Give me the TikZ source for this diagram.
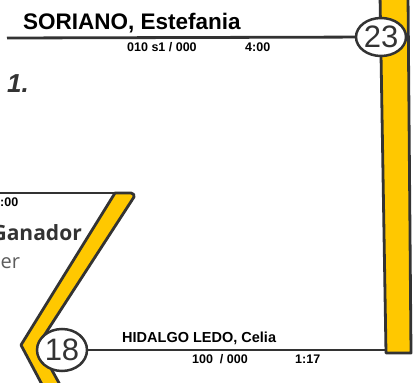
\documentclass[tikz,border=0pt]{standalone}
\usepackage{fontspec}
\setmainfont{Liberation Sans}
\newfontfamily\osans{Open Sans}
\usetikzlibrary{shapes.geometric}
\definecolor{bandyellow}{HTML}{FFC800}
\definecolor{ink}{HTML}{333333}
\begin{document}
\begin{tikzpicture}[x=1pt,y=-1pt,
  band/.style={fill=bandyellow,draw=ink,line width=2.8pt,line join=round},
  bline/.style={draw=ink,line width=2.8pt},
  seed/.style={ellipse,draw=ink,line width=2.5pt,fill=white,minimum width=50pt,inner sep=0pt,font=\fontsize{31}{31}\selectfont,text=ink},
  pname/.style={anchor=base west,inner sep=0pt,text=black},
  small/.style={anchor=base west,font=\bfseries\fontsize{12.5}{12.5}\selectfont,inner sep=0pt,text=black},
]
\useasboundingbox (0,0) rectangle (414,382);
\clip (0,0) rectangle (414,382);
% winner bands
\draw[band] (380,-5) -- (408,-5) -- (411,353) -- (386,353) -- cycle;
\draw[band] (115,193) -- (131,193) to[out=0,in=60] (134,197) -- (38,345) -- (64,392) -- (46,392) -- (21,345) -- cycle;
% bracket lines and seeds
\coordinate (t0) at (7,38);
\coordinate (m0) at (-2,193);
\coordinate (m1) at (118,193);
\coordinate (b1) at (387,350);
\draw[bline] (m0) -- (m1);
\node[seed,minimum height=38pt] (s23) at (381,37) {23};
\draw[bline] (t0) -- (s23);
\node[seed,minimum height=42pt] (s18) at (62,350) {18};
\draw[bline] (s18) -- (b1);
% texts
\node[pname,font=\bfseries\fontsize{22.5}{22.5}\selectfont] (n1) at (23,30) {SORIANO, Estefania};
\node[small] (sc1) at (127,52) {010 s1 / 000};
\node[small] (tm1) at (245,52) {4:00};
\node[anchor=base west,inner sep=0pt,font=\bfseries\itshape\fontsize{26}{26}\selectfont,text=ink] (rk) at (7,93) {1.};
\node[small] (tm0) at (0,206) {:00};
\node[anchor=base east,inner sep=0pt,font=\osans\bfseries\fontsize{21}{21}\selectfont,text=ink] (gan) at (82,240) {Ganador};
\node[anchor=base west,inner sep=0pt,font=\osans\fontsize{20}{20}\selectfont,text=ink!80] (er) at (0.5,268) {er};
\node[pname,font=\bfseries\fontsize{14.5}{14.5}\selectfont] (n2) at (122,342) {HIDALGO LEDO, Celia};
\node[small] (sc2) at (192,363) {100\ \ / 000};
\node[small] (tm2) at (295,363) {1:17};
\end{tikzpicture}
\end{document}
